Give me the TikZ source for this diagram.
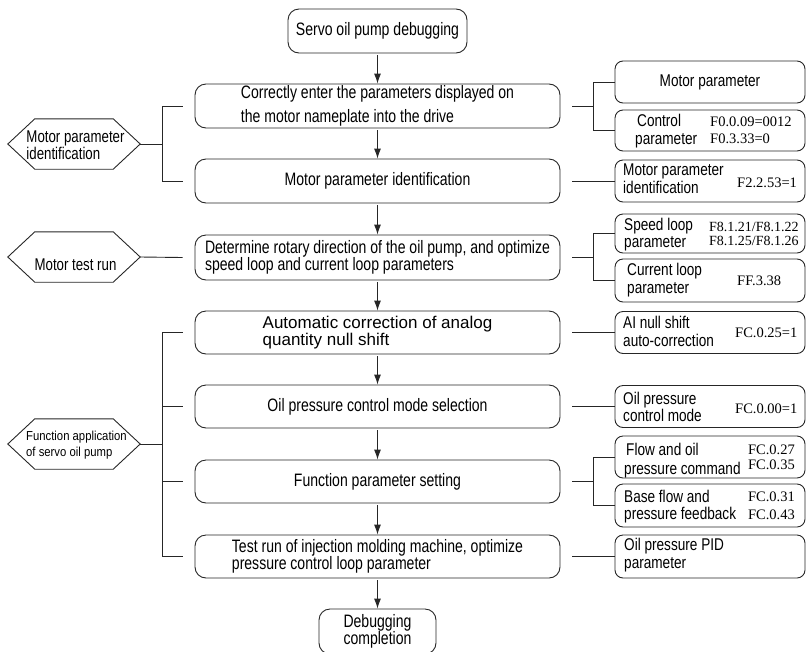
\documentclass[tikz,border=0pt]{standalone}
\usepackage{fontspec}
\setmainfont{Liberation Sans}
\newfontfamily\cnd[FakeStretch=0.78]{Liberation Sans}
\newfontfamily\cndb[FakeStretch=0.8]{Liberation Sans}
\newfontfamily\cndc[FakeStretch=0.87]{Liberation Sans}
\newfontfamily\tms{Liberation Serif}
\usetikzlibrary{arrows.meta,calc}
\begin{document}
\begin{tikzpicture}[x=1pt,y=-1pt,
  mbox/.style={draw=black!85, line width=0.9pt, rounded corners=11pt, minimum width=365pt, minimum height=44pt, inner sep=0pt, font=\cnd\fontsize{18}{17}\selectfont, align=left},
  rbox/.style={draw=black!85, line width=0.9pt, rounded corners=8pt, minimum width=190pt, inner sep=0pt, font=\cndb\fontsize{17}{20}\selectfont},
  hexb/.style={minimum width=132pt, minimum height=50pt, inner sep=0pt},
  htx/.style={inner sep=0pt, align=left, font=\cnd\fontsize{17}{17}\selectfont},
  rtx/.style={anchor=base west, inner sep=0pt, font=\cndb\fontsize{17}{20}\selectfont},
  rcode/.style={anchor=base west, inner sep=0pt, font=\tms\fontsize{14.5}{16}\selectfont},
  rcodee/.style={anchor=base east, inner sep=0pt, font=\tms\fontsize{14.5}{16}\selectfont},
  ln/.style={draw=black!85, line width=0.9pt},
  arr/.style={ln, -{Latex[length=10pt,width=7pt]}, shorten <=2pt}
]
\useasboundingbox (0,0) rectangle (806,651);
\clip (0,0) rectangle (806,651);

% main column
\node[mbox, minimum width=179pt] (b1) at (377.5,31) {Servo oil pump debugging};
\node[mbox, font=\cnd\fontsize{18}{24}\selectfont] (b2) at (377.5,106) {Correctly enter the parameters displayed on\\the motor nameplate into the drive};
\node[mbox] (b3) at (377.5,181) {Motor parameter identification};
\node[mbox, minimum height=45pt] (b4) at (377.5,257.5) {Determine rotary direction of the oil pump, and optimize\\speed loop and current loop parameters};
\node[mbox, minimum height=43pt, font=\fontsize{17}{15}\selectfont] (b5) at (377.5,332.5) {Automatic correction of analog\\quantity null shift};
\node[mbox, minimum height=43pt] (b6) at (377.5,406.5) {Oil pressure control mode selection};
\node[mbox, minimum height=43pt] (b7) at (377.5,481.5) {Function parameter setting};
\node[mbox, minimum height=43pt] (b8) at (377.5,556.5) {Test run of injection molding machine, optimize\\pressure control loop parameter};
\node[mbox, minimum width=117pt, minimum height=45pt, align=center] (b9) at (377.5,631.5) {Debugging\\completion};

\draw[arr] (b1) -- (b2);
\draw[arr] (b2) -- (b3);
\draw[arr] (b3) -- (b4);
\draw[arr] (b4) -- (b5);
\draw[arr] (b5) -- (b6);
\draw[arr] (b6) -- (b7);
\draw[arr] (b7) -- (b8);
\draw[arr] (b8) -- (b9);

% hexagons
\foreach \n/\y in {h1/144, h2/257, h3/444} {
  \node[hexb] (\n) at (74,\y) {};
  \draw[ln] (\n.west) -- ([xshift=27pt]\n.north west) -- ([xshift=-27pt]\n.north east) -- (\n.east) -- ([xshift=-27pt]\n.south east) -- ([xshift=27pt]\n.south west) -- cycle;
}
\node[htx] (t1) at (75.5,145) {Motor parameter\\identification};
\node[htx] (t2) at (75.5,264.5) {Motor test run};
\node[htx, font=\cndc\fontsize{13}{15.5}\selectfont] (t3) at (76.5,445) {Function application\\of servo oil pump};

% left connectors
\coordinate (L) at (162,0);
\coordinate (R) at (593,0);
\draw[ln] (h1.east) -- (h1.east -| L);
\draw[ln] ([xshift=-12pt]b2.west) -- (b2.west -| L) -- (b3.west -| L) -- ([xshift=-12pt]b3.west);
\draw[ln] (h2.east) -- ([xshift=-12pt]b4.west);
\draw[ln] (h3.east) -- (h3.east -| L);
\draw[ln] ([xshift=-12pt]b5.west) -- (b5.west -| L) -- (b8.west -| L) -- ([xshift=-12pt]b8.west);
\draw[ln] (b6.west -| L) -- ([xshift=-12pt]b6.west);
\draw[ln] (b7.west -| L) -- ([xshift=-12pt]b7.west);

% right boxes
\node[rbox, minimum height=42pt] (r1) at (710,82) {Motor parameter};
\node[rbox, minimum height=41pt] (r2) at (710,130.5) {};
\node[rbox, minimum height=42pt] (r3) at (710,181) {};
\node[rbox, minimum height=39pt] (r4) at (710,233.5) {};
\node[rbox, minimum height=43pt] (r5) at (710,280.5) {};
\node[rbox, minimum height=42pt] (r6) at (710,332.5) {};
\node[rbox, minimum height=42pt] (r7) at (710,406.5) {};
\node[rbox, minimum height=42pt] (r8) at (710,457) {};
\node[rbox, minimum height=43pt] (r9) at (710,505.5) {};
\node[rbox, minimum height=43pt] (r10) at (710,556.5) {};

\node[rtx] (r2a) at (637,126) {Control};
\node[rtx] (r2b) at (635,144) {parameter};
\node[rcode] (r2c) at (710,126) {F0.0.09=0012};
\node[rcode] (r2d) at (710,143) {F0.3.33=0};

\node[rtx] (r3a) at (623,175) {Motor parameter};
\node[rtx] (r3b) at (623,193) {identification};
\node[rcode] (r3c) at (737,187) {F2.2.53=1};

\node[rtx] (r4a) at (624,230) {Speed loop};
\node[rtx] (r4b) at (624,247) {parameter};
\node[rcode, font=\tms\fontsize{14}{16}\selectfont] (r4c) at (709,231) {F8.1.21/F8.1.22};
\node[rcode, font=\tms\fontsize{14}{16}\selectfont] (r4d) at (709,245.5) {F8.1.25/F8.1.26};

\node[rtx] (r5a) at (627,275) {Current loop};
\node[rtx] (r5b) at (627,293) {parameter};
\node[rcode] (r5c) at (737,285) {FF.3.38};

\node[rtx] (r6a) at (623,328) {AI null shift};
\node[rtx] (r6b) at (623,346) {auto-correction};
\node[rcode] (r6c) at (735,337) {FC.0.25=1};

\node[rtx] (r7a) at (623,404) {Oil pressure};
\node[rtx] (r7b) at (623,421.5) {control mode};
\node[rcode] (r7c) at (735,413) {FC.0.00=1};

\node[rtx] (r8a) at (626,455) {Flow and oil};
\node[rtx] (r8b) at (624,474) {pressure command};
\node[rcodee] (r8c) at (795,454) {FC.0.27};
\node[rcodee] (r8d) at (795,469) {FC.0.35};

\node[rtx] (r9a) at (624,502) {Base flow and};
\node[rtx] (r9b) at (624,519) {pressure feedback};
\node[rcodee] (r9c) at (795,501) {FC.0.31};
\node[rcodee] (r9d) at (795,519) {FC.0.43};

\node[rtx] (r10a) at (624,550) {Oil pressure PID};
\node[rtx] (r10b) at (624,568) {parameter};

% right connectors
\draw[ln] ([xshift=12pt]b2.east) -- (b2.east -| R);
\draw[ln] (r1.west) -- (r1.west -| R) -- (r2.west -| R) -- (r2.west);
\draw[ln] ([xshift=12pt]b3.east) -- (r3.west);
\draw[ln] ([xshift=12pt]b4.east) -- (b4.east -| R);
\draw[ln] (r4.west) -- (r4.west -| R) -- (r5.west -| R) -- (r5.west);
\draw[ln] ([xshift=12pt]b5.east) -- (r6.west);
\draw[ln] ([xshift=12pt]b6.east) -- (r7.west);
\draw[ln] ([xshift=12pt]b7.east) -- (b7.east -| R);
\draw[ln] (r8.west) -- (r8.west -| R) -- (r9.west -| R) -- (r9.west);
\draw[ln] ([xshift=12pt]b8.east) -- (r10.west);
\end{tikzpicture}
\end{document}
